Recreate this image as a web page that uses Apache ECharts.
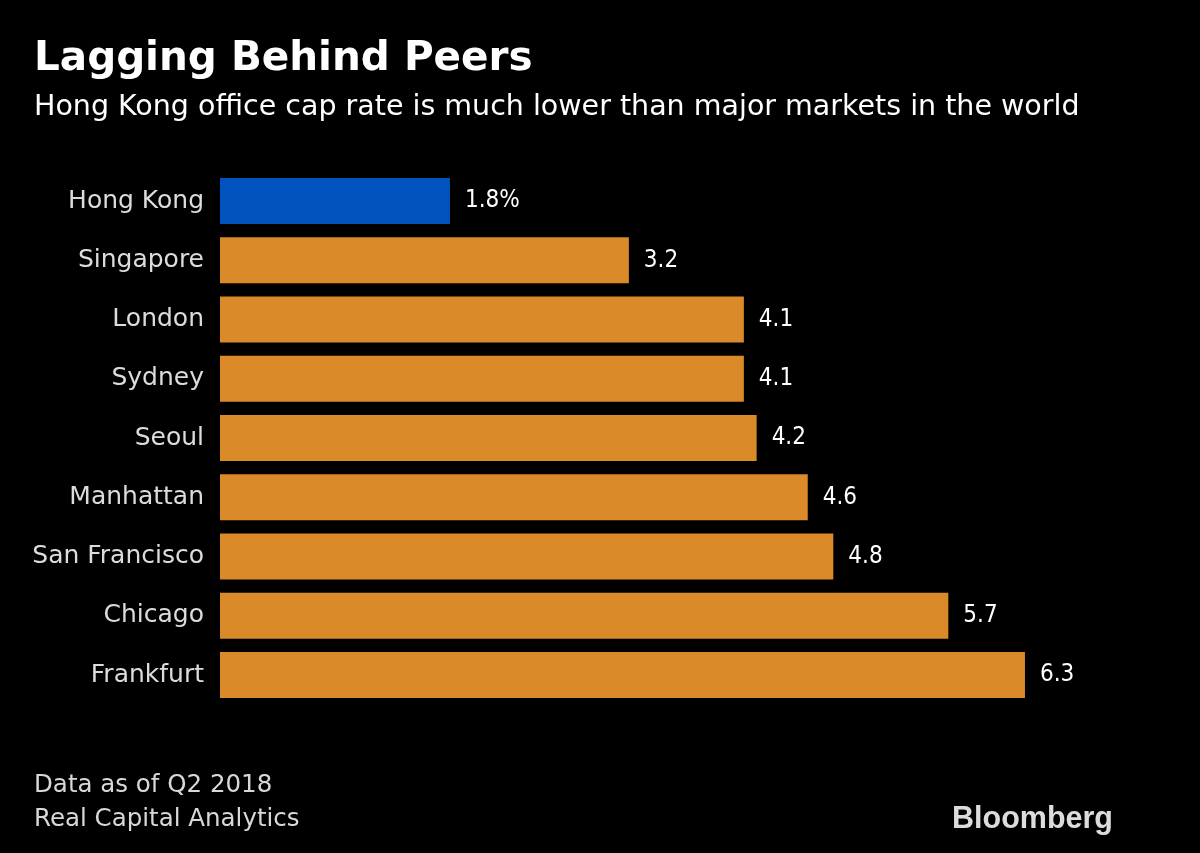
<!DOCTYPE html>
<html>
<head>
<meta charset="utf-8">
<script src="https://cdn.jsdelivr.net/npm/echarts@6/dist/echarts.min.js"></script>
<style>
html,body{margin:0;padding:0;background:#000;}
#chart{width:1200px;height:853px;}
</style>
</head>
<body>
<div id="chart"></div>
<script>
const categories = ["Hong Kong","Singapore","London","Sydney","Seoul","Manhattan","San Francisco","Chicago","Frankfurt"];
const values = [1.8, 3.2, 4.1, 4.1, 4.2, 4.6, 4.8, 5.7, 6.3];
const highlight = "Hong Kong";

const FONT = "'DejaVu Sans',sans-serif";
const FONT_C = "'DejaVu Sans Condensed','DejaVu Sans',sans-serif";
const chart = echarts.init(document.getElementById('chart'));
chart.setOption({
  backgroundColor: '#000',
  animation: false,
  title: [{
    text: 'Lagging Behind Peers',
    left: 34, top: 39, padding: 0,
    textStyle: {color: '#fff', fontFamily: FONT, fontWeight: 'bold', fontSize: 40.5}
  },{
    text: 'Hong Kong office cap rate is much lower than major markets in the world',
    left: 34, top: 93, padding: 0,
    textStyle: {color: '#fff', fontFamily: FONT, fontWeight: 'normal', fontSize: 28.5}
  }],
  graphic: [
    {type:'text', left: 34, top: 773, style:{text:'Data as of Q2 2018', fill:'#d8d8d8', font: "24.5px " + FONT}},
    {type:'text', left: 34, top: 807, style:{text:'Real Capital Analytics', fill:'#d8d8d8', font: "24.5px " + FONT}},
    {type:'text', left: 952, top: 804, style:{text:'Bloomberg', fill:'#dcdcdc', font: "bold 30.5px 'Liberation Sans',Arial,sans-serif"}}
  ],
  grid: {left: 220, right: 85.6, top: 171.4, height: 533.3, containLabel: false},
  xAxis: {type: 'value', min: 0, max: 7, show: false},
  yAxis: {
    type: 'category', data: categories, inverse: true,
    axisLine: {show: false}, axisTick: {show: false},
    axisLabel: {color: '#dcdcdc', fontFamily: FONT, fontSize: 25, margin: 16}
  },
  series: [{
    type: 'bar',
    barCategoryGap: '22.4%',
    data: values.map((v, i) => ({
      value: v,
      itemStyle: {color: categories[i] === highlight ? '#0052BF' : '#DA8A28'}
    })),
    label: {
      show: true, position: 'right', distance: 15,
      color: '#fff', fontFamily: FONT_C, fontSize: 24,
      formatter: p => p.dataIndex === 0 ? p.value.toFixed(1) + '%' : p.value.toFixed(1)
    }
  }]
});
</script>
</body>
</html>
